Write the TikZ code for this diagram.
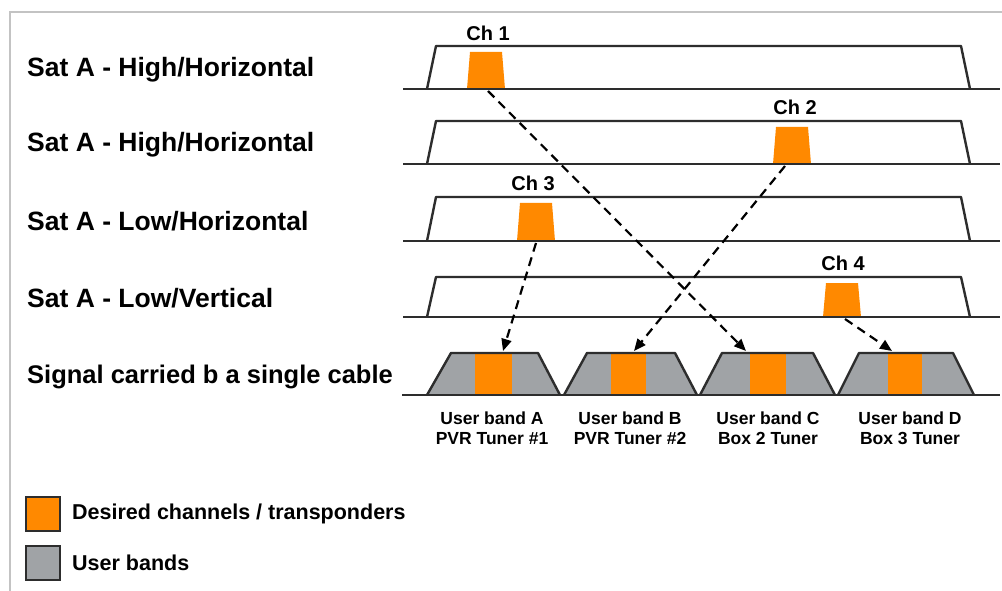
\documentclass[tikz,border=0pt]{standalone}
\usepackage{fontspec}
\setmainfont{Liberation Sans}
\usetikzlibrary{arrows.meta}
\definecolor{orng}{RGB}{255,137,0}
\definecolor{ubgray}{RGB}{160,163,166}
\definecolor{ln}{RGB}{45,45,45}
\definecolor{frm}{RGB}{195,195,195}
\begin{document}
\begin{tikzpicture}[x=1pt,y=-1pt,
 rowlbl/.style={anchor=west, inner sep=0pt, font=\fontsize{26.5}{30}\selectfont\bfseries},
 chlbl/.style={inner sep=0pt, font=\fontsize{20}{22}\selectfont\bfseries},
 ublbl/.style={inner sep=0pt, align=center, font=\fontsize{17.5}{20}\selectfont\bfseries},
 lglbl/.style={anchor=west, inner sep=0pt, font=\fontsize{21.5}{26}\selectfont\bfseries},
 band/.style={draw=ln, line width=2.4pt, line join=round},
 base/.style={draw=ln, line width=2.4pt},
 flow/.style={draw=black, line width=2.2pt, dash pattern=on 9pt off 6pt, -{Triangle[length=12pt,width=10pt]}},
 lgbox/.style={draw=ln, line width=1.6pt, minimum size=34pt, inner sep=0pt},
]
\useasboundingbox (0,0) rectangle (1002,591);
\fill[white] (0,0) rectangle (1002,591);
\draw[frm, line width=2pt] (10,591) -- (10,12) -- (1002,12);

% channel blocks (slightly tapered)
\foreach \cx/\tp/\bt in {486/52/89, 792/127/164, 536/203/241, 842/283/317}{
  \fill[orng] (\cx-19,\bt) -- (\cx-16,\tp) -- (\cx+16,\tp) -- (\cx+19,\bt) -- cycle;
}

% satellite bands
\foreach \tp/\bt in {46/89,121/164,197/241,277/317}{
  \draw[base] (403,\bt) -- (1000,\bt);
  \draw[band] (427,\bt) -- (436,\tp) -- (961,\tp) -- (970,\bt);
}

% channel labels
\node[chlbl] (l1) at (488,33) {Ch 1};
\node[chlbl] (l2) at (795,107) {Ch 2};
\node[chlbl] (l3) at (533,183) {Ch 3};
\node[chlbl] (l4) at (843,263) {Ch 4};

% user bands
\foreach \pa/\pb/\pc/\pd/\pe/\pf in {427/451/538/560/475/512, 564/587/675/697/611/646, 700/722/813/835/750/786, 838/859/953/974/888/922}{
  \fill[ubgray] (\pa,395) -- (\pb,353) -- (\pc,353) -- (\pd,395) -- cycle;
  \fill[orng] (\pe,353) rectangle (\pf,395);
  \draw[band] (\pa,395) -- (\pb,353) -- (\pc,353) -- (\pd,395);
}
\draw[base] (402,395) -- (1000,395);

\node[ublbl] (uA) at (492,428) {User band A\\PVR Tuner \#1};
\node[ublbl] (uB) at (630,428) {User band B\\PVR Tuner \#2};
\node[ublbl] (uC) at (768,428) {User band C\\Box 2 Tuner};
\node[ublbl] (uD) at (910,428) {User band D\\Box 3 Tuner};

% row labels
\node[rowlbl] (r1) at (27,70) {Sat A - High/Horizontal};
\node[rowlbl] (r2) at (27,145) {Sat A - High/Horizontal};
\node[rowlbl] (r3) at (27,221) {Sat A - Low/Horizontal};
\node[rowlbl] (r4) at (27,298) {Sat A - Low/Vertical};
\node[rowlbl, font=\fontsize{25.5}{30}\selectfont\bfseries] (r5) at (27,377) {Signal carried b a single cable};

% connector ends
\coordinate (s1) at (488,91);
\coordinate (s2) at (785,166);
\coordinate (s3) at (536,243);
\coordinate (s4) at (845,319);
\coordinate (tA) at (503,351);
\coordinate (tB) at (634,351);
\coordinate (tC) at (746,351);
\coordinate (tD) at (892,351);
\draw[flow] (s1) -- (tC);
\draw[flow] (s2) -- (tB);
\draw[flow] (s3) -- (tA);
\draw[flow] (s4) -- (tD);

% legend
\node[lgbox, fill=orng] (k1) at (43,514) {};
\node[lglbl] (k1t) at (72,514) {Desired channels / transponders};
\node[lgbox, fill=ubgray] (k2) at (43,563) {};
\node[lglbl] (k2t) at (72,563) {User bands};
\end{tikzpicture}
\end{document}
